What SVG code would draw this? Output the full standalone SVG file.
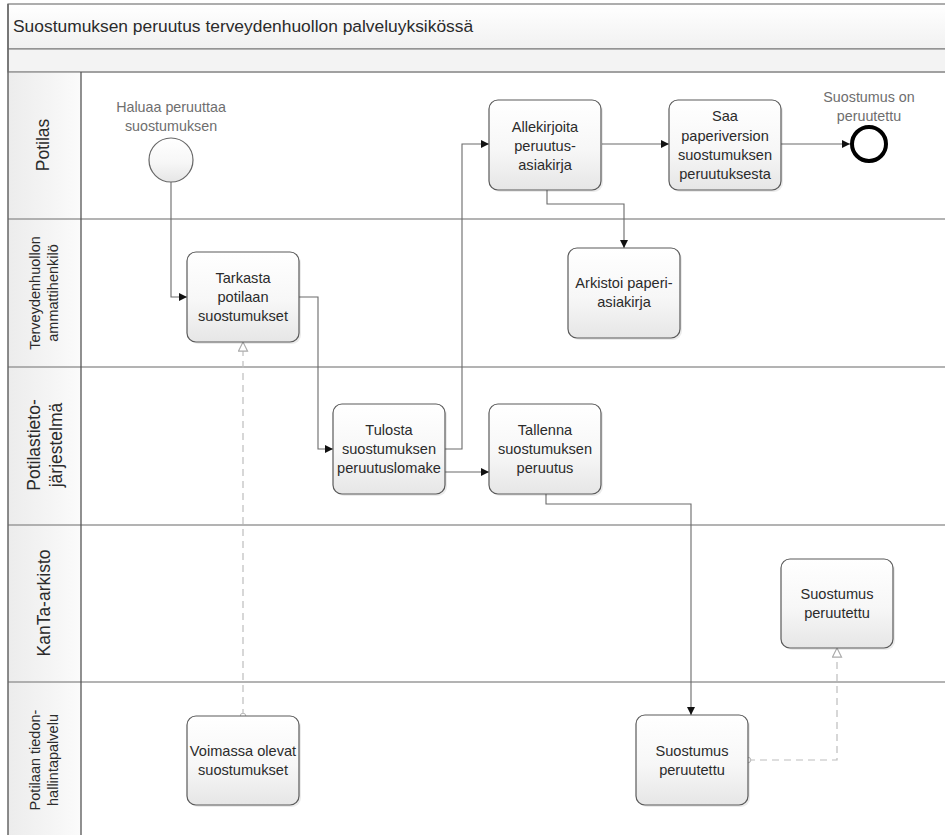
<svg xmlns="http://www.w3.org/2000/svg" width="945" height="835" viewBox="0 0 945 835">
  <defs>
    <linearGradient id="taskFill" x1="0" y1="0" x2="0" y2="1">
      <stop offset="0" stop-color="#ffffff"/>
      <stop offset="0.55" stop-color="#f7f7f7"/>
      <stop offset="1" stop-color="#e6e6e6"/>
    </linearGradient>
    <linearGradient id="laneHead" x1="0" y1="0" x2="1" y2="0">
      <stop offset="0" stop-color="#ececec"/>
      <stop offset="1" stop-color="#fbfbfb"/>
    </linearGradient>
    <linearGradient id="titleFill" x1="0" y1="0" x2="0" y2="1">
      <stop offset="0" stop-color="#ffffff"/>
      <stop offset="1" stop-color="#f1f1f1"/>
    </linearGradient>
    <marker id="arrow" viewBox="0 0 10 10" refX="10" refY="5" markerWidth="8" markerHeight="8" markerUnits="userSpaceOnUse" orient="auto">
      <path d="M0,0 L10,5 L0,10 z" fill="#111"/>
    </marker>
    <marker id="openTri" viewBox="0 0 12 12" refX="11" refY="6" markerWidth="11" markerHeight="11" markerUnits="userSpaceOnUse" orient="auto">
      <path d="M1,1 L11,6 L1,11 z" fill="#fff" stroke="#aaa" stroke-width="1.2"/>
    </marker>
    <marker id="dot" viewBox="0 0 10 10" refX="5" refY="5" markerWidth="7" markerHeight="7" markerUnits="userSpaceOnUse">
      <circle cx="5" cy="5" r="4" fill="#fff" stroke="#aaa" stroke-width="1.2"/>
    </marker>
  </defs>
  <style>
    text { font-family: "Liberation Sans", Arial, sans-serif; fill: #2b2b2b; }
    .title { font-size: 17.4px; }
    .lane { font-size: 17.5px; text-anchor: middle; }
    .lane2 { font-size: 14.5px; text-anchor: middle; }
    .lbl { font-size: 14.6px; text-anchor: middle; }
    .evlbl { font-size: 14.3px; text-anchor: middle; fill: #6e6e6e; }
    .task { fill: url(#taskFill); stroke: #5a5a5a; stroke-width: 1.2; }
    .shadow { fill: #000; opacity: 0.08; }
    .flow { fill: none; stroke: #6a6a6a; stroke-width: 1.1; marker-end: url(#arrow); }
    .assoc { fill: none; stroke: #bdbdbd; stroke-width: 1.2; stroke-dasharray: 7 5; marker-start: url(#dot); marker-end: url(#openTri); }
    .divider { stroke: #9a9a9a; stroke-width: 1.5; }
  </style>

  <!-- pool frame and header -->
  <rect x="0" y="0" width="945" height="835" fill="#ffffff"/>
  <rect x="8" y="4" width="945" height="45" fill="url(#titleFill)" stroke="#777" stroke-width="1.2"/>
  <rect x="8" y="49" width="945" height="23" fill="#f3f3f3" stroke="#888" stroke-width="1.2"/>
  <text class="title" x="13" y="32">Suostumuksen peruutus terveydenhuollon palveluyksikössä</text>

  <!-- lanes -->
  <g id="lanes">
    <rect x="8" y="72" width="73" height="770" fill="url(#laneHead)"/>
    <line class="divider" x1="8" y1="72" x2="945" y2="72"/>
    <line class="divider" x1="8" y1="219" x2="945" y2="219"/>
    <line class="divider" x1="8" y1="367" x2="945" y2="367"/>
    <line class="divider" x1="8" y1="525" x2="945" y2="525"/>
    <line class="divider" x1="8" y1="682" x2="945" y2="682"/>
    <line x1="8" y1="4" x2="8" y2="835" stroke="#666" stroke-width="1.5"/>
    <line x1="81" y1="72" x2="81" y2="835" stroke="#555" stroke-width="1.3"/>
    <text class="lane" transform="translate(49,145) rotate(-90)">Potilas</text>
    <text class="lane2" transform="translate(40,293) rotate(-90)">Terveydenhuollon</text>
    <text class="lane2" transform="translate(58,293) rotate(-90)">ammattihenkilö</text>
    <text class="lane" transform="translate(40,445) rotate(-90)">Potilastieto-</text>
    <text class="lane" transform="translate(62,445) rotate(-90)">järjestelmä</text>
    <text class="lane" transform="translate(50,603) rotate(-90)">KanTa-arkisto</text>
    <text class="lane2" transform="translate(40,760) rotate(-90)">Potilaan tiedon-</text>
    <text class="lane2" transform="translate(58,760) rotate(-90)">hallintapalvelu</text>
  </g>

  <!-- connectors -->
  <g id="connectors">
    <path class="flow" d="M171,182 V297 H187"/>
    <path class="flow" d="M299,297 H318 V449 H333"/>
    <path class="flow" d="M445,449 H462 V144 H489"/>
    <path class="flow" d="M445,472 H489"/>
    <path class="flow" d="M602,144 H669"/>
    <path class="flow" d="M781,144 H850"/>
    <path class="flow" d="M547,190 V204 H624 V248"/>
    <path class="flow" d="M546,494 V504 H691 V715"/>
    <path class="assoc" d="M243,716 V342"/>
    <path class="assoc" d="M748,760 H837 V648"/>
  </g>

  <!-- events -->
  <g id="start-event">
    <circle cx="171" cy="160" r="22" fill="url(#taskFill)" stroke="#666" stroke-width="1.2"/>
    <text class="evlbl" x="171" y="112">Haluaa peruuttaa</text>
    <text class="evlbl" x="171" y="131">suostumuksen</text>
  </g>
  <g id="end-event">
    <circle cx="869" cy="144" r="17" fill="#fff" stroke="#000" stroke-width="4"/>
    <text class="evlbl" x="869" y="102">Suostumus on</text>
    <text class="evlbl" x="869" y="121">peruutettu</text>
  </g>

  <!-- tasks -->
  <g id="task-tarkasta">
    <rect class="shadow" x="189" y="254" width="112" height="90" rx="9"/>
    <rect class="task" x="187" y="252" width="112" height="90" rx="9"/>
    <text class="lbl" x="243" y="283">Tarkasta</text>
    <text class="lbl" x="243" y="302">potilaan</text>
    <text class="lbl" x="243" y="321">suostumukset</text>
  </g>
  <g id="task-tulosta">
    <rect class="shadow" x="335" y="406" width="112" height="90" rx="9"/>
    <rect class="task" x="333" y="404" width="112" height="90" rx="9"/>
    <text class="lbl" x="389" y="435">Tulosta</text>
    <text class="lbl" x="389" y="454">suostumuksen</text>
    <text class="lbl" x="389" y="473">peruutuslomake</text>
  </g>
  <g id="task-allekirjoita">
    <rect class="shadow" x="491" y="102" width="112" height="90" rx="9"/>
    <rect class="task" x="489" y="100" width="112" height="90" rx="9"/>
    <text class="lbl" x="545" y="132">Allekirjoita</text>
    <text class="lbl" x="545" y="151">peruutus-</text>
    <text class="lbl" x="545" y="170">asiakirja</text>
  </g>
  <g id="task-saa">
    <rect class="shadow" x="671" y="102" width="112" height="90" rx="9"/>
    <rect class="task" x="669" y="100" width="112" height="90" rx="9"/>
    <text class="lbl" x="725" y="121">Saa</text>
    <text class="lbl" x="725" y="141">paperiversion</text>
    <text class="lbl" x="725" y="160">suostumuksen</text>
    <text class="lbl" x="725" y="179">peruutuksesta</text>
  </g>
  <g id="task-arkistoi">
    <rect class="shadow" x="570" y="250" width="112" height="90" rx="9"/>
    <rect class="task" x="568" y="248" width="112" height="90" rx="9"/>
    <text class="lbl" x="624" y="288">Arkistoi paperi-</text>
    <text class="lbl" x="624" y="307">asiakirja</text>
  </g>
  <g id="task-tallenna">
    <rect class="shadow" x="491" y="406" width="112" height="90" rx="9"/>
    <rect class="task" x="489" y="404" width="112" height="90" rx="9"/>
    <text class="lbl" x="545" y="435">Tallenna</text>
    <text class="lbl" x="545" y="454">suostumuksen</text>
    <text class="lbl" x="545" y="473">peruutus</text>
  </g>
  <g id="data-kanta">
    <rect class="shadow" x="783" y="561" width="112" height="89" rx="9"/>
    <rect class="task" x="781" y="559" width="112" height="89" rx="9"/>
    <text class="lbl" x="837" y="599">Suostumus</text>
    <text class="lbl" x="837" y="618">peruutettu</text>
  </g>
  <g id="data-voimassa">
    <rect class="shadow" x="189" y="718" width="112" height="89" rx="9"/>
    <rect class="task" x="187" y="716" width="112" height="89" rx="9"/>
    <text class="lbl" x="243" y="756">Voimassa olevat</text>
    <text class="lbl" x="243" y="775">suostumukset</text>
  </g>
  <g id="data-peruutettu">
    <rect class="shadow" x="638" y="717" width="112" height="90" rx="9"/>
    <rect class="task" x="636" y="715" width="112" height="90" rx="9"/>
    <text class="lbl" x="692" y="756">Suostumus</text>
    <text class="lbl" x="692" y="775">peruutettu</text>
  </g>
</svg>
